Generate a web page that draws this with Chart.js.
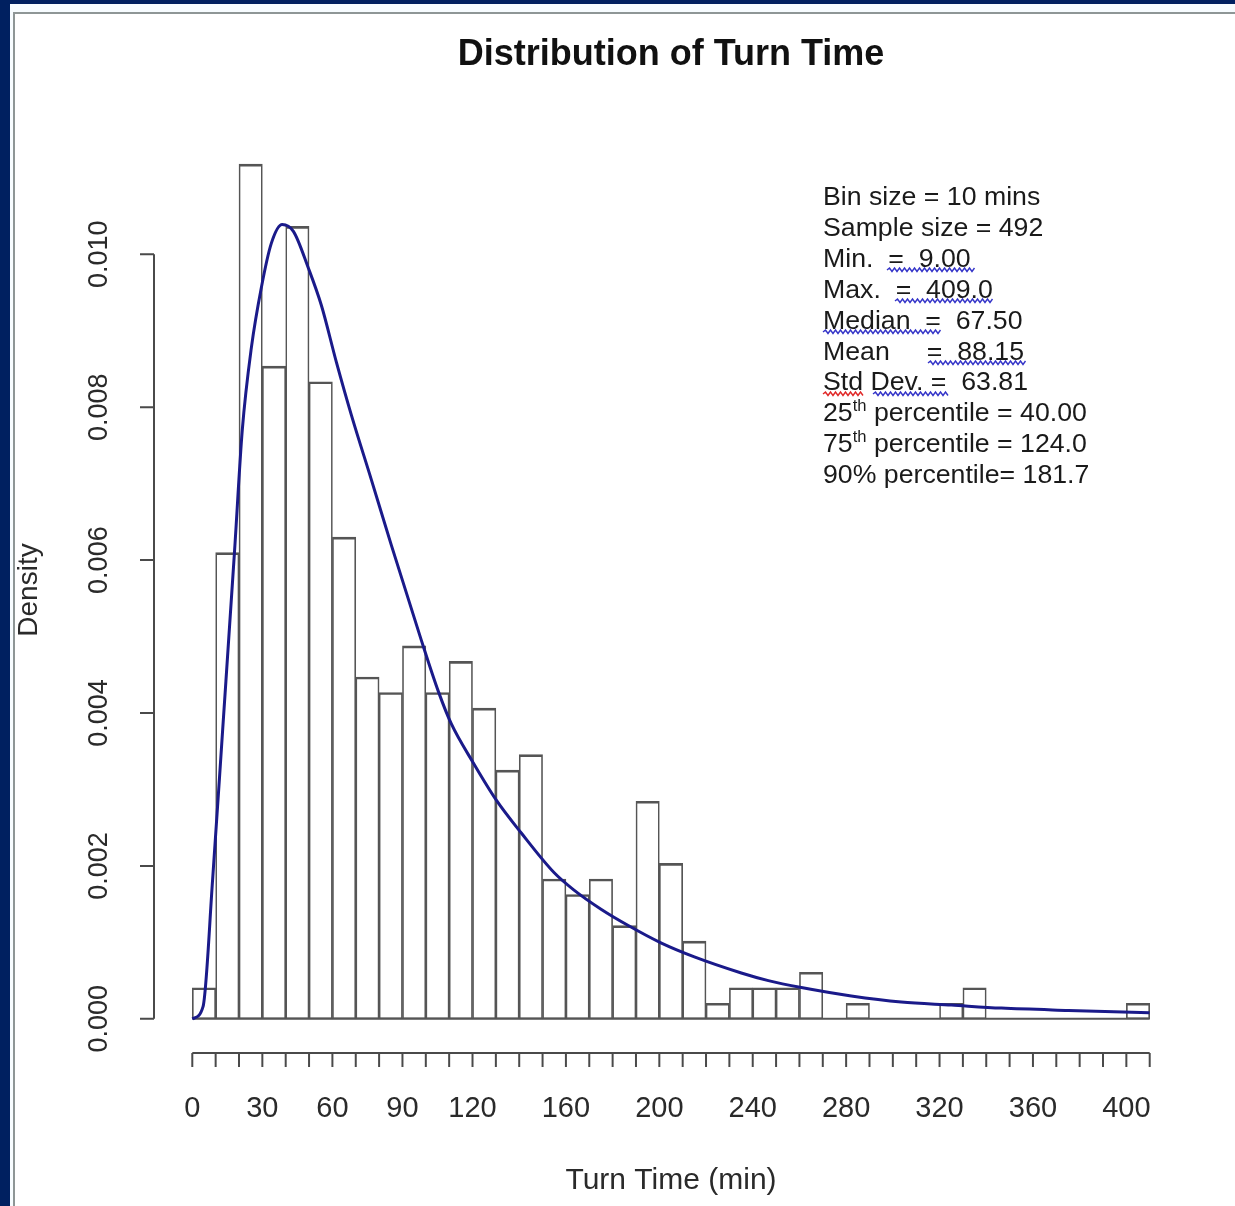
<!DOCTYPE html>
<html>
<head>
<meta charset="utf-8">
<title>Distribution of Turn Time</title>
<script src="https://cdn.jsdelivr.net/npm/chart.js@4.4.1/dist/chart.umd.min.js"></script>
<style>
  html, body { margin: 0; padding: 0; background: #002060; overflow: hidden; }
  #sheet { position: absolute; left: 10px; top: 4px; width: 1225px; height: 1202px; background: #f7fcff; }
  #page { position: absolute; left: 3px; top: 8px; right: 0; bottom: 0;
          border-left: 2px solid #8e9696; border-top: 2px solid #8e9696; background: #ffffff; }
  #chart { position: absolute; left: 0; top: 0; }
</style>
</head>
<body>
<div id="sheet"><div id="page"></div></div>
<canvas id="chart" width="1235" height="1206"></canvas>
<script>
// histogram cells (left edge of each 10 min bin) and counts per cell
const binStart = [0, 10, 20, 30, 40, 50, 60, 70, 80, 90,
                  100, 110, 120, 130, 140, 150, 160, 170, 180, 190,
                  200, 210, 220, 230, 240, 250, 260, 270, 280, 290,
                  300, 310, 320, 330, 340, 350, 360, 370, 380, 390, 400];
const binCounts = [2, 30, 55, 42, 51, 41, 31, 22, 21, 24,
                   21, 23, 20, 16, 17, 9, 8, 9, 6, 14,
                   10, 5, 1, 2, 2, 2, 3, 0, 1, 0,
                   0, 0, 1, 2, 0, 0, 0, 0, 0, 0, 1];
const binWidth = 10;
const sampleSize = 492;

// fitted density curve
const curveX = [0, 4.6, 8.7, 13.0, 18.1, 21.4, 25.3, 29.6, 33.8, 38.5,
                43.3, 49.7, 55.3, 61.7, 68.1, 76.7, 85.2, 98.1, 105.4, 110.9,
                120.3, 130.2, 140.9, 155.0, 163.2, 175.2, 186.7, 200.9, 215.0, 235.1,
                246.7, 260.8, 282.2, 303.6, 325.1, 346.5, 375.2, 409.9];
const curveY = [0, 0.00016, 0.00182, 0.00378, 0.00612, 0.00770, 0.00878, 0.00957, 0.01014, 0.01039,
                0.01030, 0.00982, 0.00933, 0.00859, 0.00790, 0.00705, 0.00620, 0.00495, 0.00428, 0.00386,
                0.00335, 0.00286, 0.00243, 0.00191, 0.00169, 0.00143, 0.00122, 0.00099, 0.00081, 0.00060,
                0.00050, 0.00041, 0.00030, 0.00022, 0.00018, 0.00014, 0.00011, 0.00008];

// axis ticks and labels
const xTickValues = [0, 10, 20, 30, 40, 50, 60, 70, 80, 90, 100, 110, 120, 130, 140, 150, 160,
                     170, 180, 190, 200, 210, 220, 230, 240, 250, 260, 270, 280, 290, 300, 310,
                     320, 330, 340, 350, 360, 370, 380, 390, 400, 410];
const xTickLabels = [0, 30, 60, 90, 120, 160, 200, 240, 280, 320, 360, 400];
const yTickValues = [0, 0.002, 0.004, 0.006, 0.008, 0.010];
const yTickLabels = ['0.000', '0.002', '0.004', '0.006', '0.008', '0.010'];

const titleText = 'Distribution of Turn Time';
const xTitle = 'Turn Time (min)';
const yTitle = 'Density';

// summary box, ^..^ marks a superscript
const statsLines = [
  'Bin size = 10 mins',
  'Sample size = 492',
  'Min.  =  9.00',
  'Max.  =  409.0',
  'Median  =  67.50',
  'Mean     =  88.15',
  'Std Dev. =  63.81',
  '25^th^ percentile = 40.00',
  '75^th^ percentile = 124.0',
  '90% percentile= 181.7'
];

const barColor = '#555555';
const axisColor = '#4a4a4a';
const textColor = '#2a2a2a';
const curveColor = '#1a1a8a';
const FONT = '"Liberation Sans", Arial, Helvetica, sans-serif';

const histData = binStart.map((s, i) => ({
  x: s + binWidth / 2,
  y: binCounts[i] / (sampleSize * binWidth)
}));
const curveData = curveX.map((v, i) => ({ x: v, y: curveY[i] }));

function drawWavy(ctx, x0, x1, y, color) {
  ctx.save();
  ctx.strokeStyle = color;
  ctx.lineWidth = 1.4;
  ctx.beginPath();
  let up = true;
  ctx.moveTo(x0, y);
  for (let px = x0 + 2.5; px <= x1; px += 2.5) {
    ctx.lineTo(px, up ? y - 2 : y + 1.5);
    up = !up;
  }
  ctx.stroke();
  ctx.restore();
}

function drawRichLine(ctx, text, x, y, size) {
  const parts = text.split('^');
  let cx = x;
  parts.forEach((p, i) => {
    if (i % 2 === 1) {
      ctx.font = (size * 0.62).toFixed(1) + 'px ' + FONT;
      ctx.fillText(p, cx, y - size * 0.38);
    } else {
      ctx.font = size + 'px ' + FONT;
      ctx.fillText(p, cx, y);
    }
    cx += ctx.measureText(p).width;
  });
}

const rPlot = {
  id: 'rPlot',
  beforeDatasetsDraw(chart) {
    const { ctx, scales: { x, y } } = chart;
    // empty cells still show as a line on zero
    ctx.save();
    ctx.strokeStyle = barColor;
    ctx.lineWidth = 2;
    ctx.beginPath();
    ctx.moveTo(x.getPixelForValue(binStart[0]), y.getPixelForValue(0));
    ctx.lineTo(x.getPixelForValue(binStart[binStart.length - 1] + binWidth), y.getPixelForValue(0));
    ctx.stroke();
    ctx.restore();
  },
  afterDraw(chart) {
    const { ctx, chartArea: area, scales: { x, y } } = chart;
    ctx.save();
    ctx.strokeStyle = axisColor;
    ctx.fillStyle = textColor;
    ctx.lineWidth = 2;

    // x axis
    const xb = area.bottom;
    ctx.beginPath();
    ctx.moveTo(x.getPixelForValue(xTickValues[0]), xb);
    ctx.lineTo(x.getPixelForValue(xTickValues[xTickValues.length - 1]), xb);
    xTickValues.forEach(v => {
      const px = x.getPixelForValue(v);
      ctx.moveTo(px, xb);
      ctx.lineTo(px, xb + 14);
    });
    // y axis
    const yl = area.left;
    ctx.moveTo(yl, y.getPixelForValue(yTickValues[0]));
    ctx.lineTo(yl, y.getPixelForValue(yTickValues[yTickValues.length - 1]));
    yTickValues.forEach(v => {
      const py = y.getPixelForValue(v);
      ctx.moveTo(yl, py);
      ctx.lineTo(yl - 14, py);
    });
    ctx.stroke();

    ctx.font = '29px ' + FONT;
    ctx.textAlign = 'center';
    ctx.textBaseline = 'middle';
    xTickLabels.forEach(v => {
      ctx.fillText(String(v), x.getPixelForValue(v), xb + 56);
    });

    yTickLabels.forEach((lab, i) => {
      ctx.save();
      ctx.translate(yl - 54, y.getPixelForValue(yTickValues[i]));
      ctx.rotate(-Math.PI / 2);
      ctx.font = '27px ' + FONT;
      ctx.fillText(lab, 0, 0);
      ctx.restore();
    });

    // axis titles
    ctx.font = '30px ' + FONT;
    ctx.fillText(xTitle, (area.left + area.right) / 2, 1181);
    ctx.save();
    ctx.translate(29, 590);
    ctx.rotate(-Math.PI / 2);
    ctx.font = '28px ' + FONT;
    ctx.fillText(yTitle, 0, 0);
    ctx.restore();

    // main title
    ctx.fillStyle = '#111';
    ctx.font = 'bold 36px ' + FONT;
    ctx.fillText(titleText, (area.left + area.right) / 2, 55);

    // summary box
    ctx.fillStyle = '#1a1a1a';
    ctx.textAlign = 'left';
    ctx.textBaseline = 'alphabetic';
    const sx = 823, sy = 205, lh = 30.9;
    statsLines.forEach((t, i) => drawRichLine(ctx, t, sx, sy + i * lh, 26.7));

    // spell-check squiggles from the source slide
    const blue = '#3434c8', red = '#e02828';
    drawWavy(ctx, 887, 975, 270, blue);
    drawWavy(ctx, 895, 993, 301, blue);
    drawWavy(ctx, 823, 942, 332, blue);
    drawWavy(ctx, 928, 1027, 363, blue);
    drawWavy(ctx, 823, 865, 394, red);
    drawWavy(ctx, 873, 950, 394, blue);
    ctx.restore();
  }
};

new Chart(document.getElementById('chart'), {
  type: 'bar',
  data: {
    datasets: [
      {
        type: 'line',
        data: curveData,
        borderColor: curveColor,
        borderWidth: 3,
        pointRadius: 0,
        fill: false,
        cubicInterpolationMode: 'monotone',
        order: 0
      },
      {
        type: 'bar',
        data: histData,
        backgroundColor: 'rgba(0,0,0,0)',
        borderColor: barColor,
        borderWidth: { top: 2, left: 1, right: 1, bottom: 1 },
        borderSkipped: false,
        barPercentage: 1,
        categoryPercentage: 1,
        order: 1
      }
    ]
  },
  options: {
    responsive: false,
    animation: false,
    layout: { padding: { left: 154, right: 47, top: 130, bottom: 153 } },
    plugins: { legend: { display: false }, tooltip: { enabled: false } },
    scales: {
      x: {
        type: 'linear',
        min: -16.4,
        max: 426.4,
        offset: false,
        display: false,
        ticks: { stepSize: 100 }
      },
      y: {
        type: 'linear',
        min: -0.000447,
        max: 0.011626,
        display: false
      }
    }
  },
  plugins: [rPlot]
});
</script>
</body>
</html>
